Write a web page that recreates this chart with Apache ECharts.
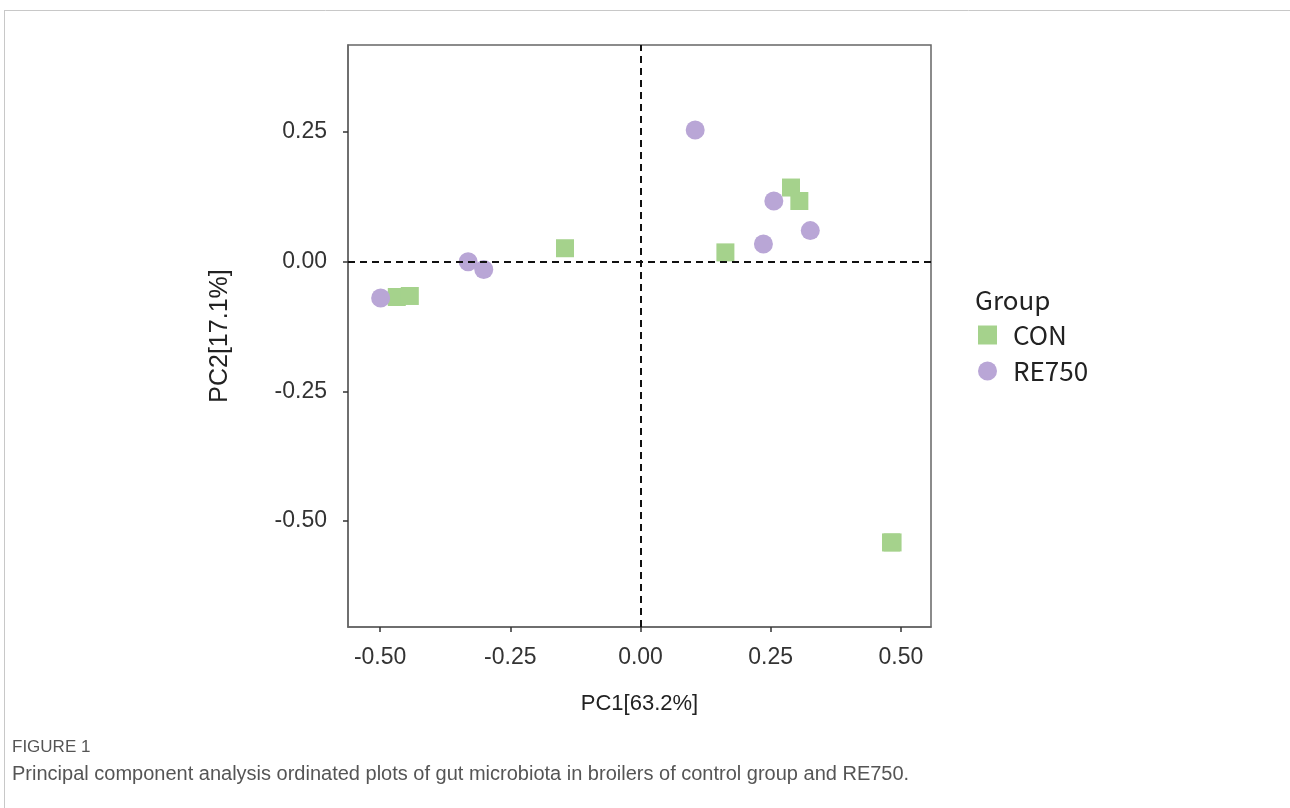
<!DOCTYPE html>
<html>
<head>
<meta charset="utf-8">
<script src="https://cdn.jsdelivr.net/npm/echarts@6/dist/echarts.min.js"></script>
<style>html,body{margin:0;padding:0;background:#fff;}#c{width:1290px;height:808px;}</style>
</head>
<body>
<div id="c"></div>
<script>
const groupNames = ['CON', 'RE750'];
const conPC1 = [-0.468, -0.443, -0.145, 0.163, 0.289, 0.305, 0.481, 0.484];
const conPC2 = [-0.068, -0.066, 0.026, 0.018, 0.143, 0.117, -0.541, -0.541];
const rePC1 = [-0.499, -0.331, -0.301, 0.105, 0.256, 0.326, 0.236];
const rePC2 = [-0.070, 0.000, -0.015, 0.254, 0.117, 0.060, 0.034];
const xTicks = [-0.5, -0.25, 0, 0.25, 0.5];
const yTicks = [-0.5, -0.25, 0, 0.25];
const xTitle = 'PC1[63.2%]';
const yTitle = 'PC2[17.1%]';
const legendTitle = 'Group';
const figLabel = 'FIGURE 1';
const caption = 'Principal component analysis ordinated plots of gut microbiota in broilers of control group and RE750.';

const zip = (a, b) => a.map((v, i) => [v, b[i]]);
const tickFont = '"Liberation Sans", sans-serif';
const legFont = '"Noto Sans CJK SC", "Noto Sans", sans-serif';

const chart = echarts.init(document.getElementById('c'), null, {renderer: 'canvas'});
chart.setOption({
  backgroundColor: '#fff',
  animation: false,
  title: {
    text: legendTitle, left: 970, top: 282,
    textStyle: {fontFamily: legFont, fontSize: 26, fontWeight: 'normal', color: '#222'}
  },
  legend: {
    data: groupNames, orient: 'vertical', left: 973, top: 317,
    itemWidth: 19, itemHeight: 19, itemGap: 10,
    textStyle: {fontFamily: legFont, fontSize: 26, color: '#222', padding: [0, 0, 0, 11]}
  },
  grid: {left: 348, right: 359, top: 45, bottom: 181, show: true, borderColor: '#666', borderWidth: 1.5, containLabel: false},
  xAxis: {
    type: 'value', min: -0.5617, max: 0.5578,
    name: xTitle, nameLocation: 'middle', nameGap: 66,
    nameTextStyle: {fontFamily: tickFont, fontSize: 22, color: '#222'},
    axisLine: {show: true, onZero: false, lineStyle: {color: '#666', width: 1.5}},
    axisTick: {show: true, inside: false, length: 5, customValues: xTicks, lineStyle: {color: '#333', width: 1.5}},
    axisLabel: {customValues: xTicks, margin: 19, fontFamily: tickFont, fontSize: 23, color: '#333', formatter: v => v.toFixed(2)},
    splitLine: {show: false}
  },
  yAxis: {
    type: 'value', min: -0.704, max: 0.4177,
    name: yTitle, nameLocation: 'middle', nameGap: 115, nameRotate: 90,
    nameTextStyle: {fontFamily: tickFont, fontSize: 25, color: '#222'},
    axisLine: {show: true, onZero: false, lineStyle: {color: '#666', width: 1.5}},
    axisTick: {show: true, inside: false, length: 5, customValues: yTicks, lineStyle: {color: '#333', width: 1.5}},
    axisLabel: {customValues: yTicks, margin: 21, fontFamily: tickFont, fontSize: 23, color: '#333', formatter: v => v.toFixed(2)},
    splitLine: {show: false}
  },
  series: [
    {
      name: groupNames[0], type: 'scatter', symbol: 'rect', symbolSize: 18,
      itemStyle: {color: '#a5d28c', opacity: 1},
      data: zip(conPC1, conPC2), z: 3,
      markLine: {
        silent: true, symbol: 'none', animation: false,
        label: {show: false},
        lineStyle: {color: '#111', type: [7, 5], width: 2},
        data: [{xAxis: 0}, {yAxis: 0}]
      }
    },
    {
      name: groupNames[1], type: 'scatter', symbol: 'circle', symbolSize: 19,
      itemStyle: {color: '#b9a6d6', opacity: 1},
      data: zip(rePC1, rePC2), z: 4
    }
  ],
  graphic: [
    {type: 'line', shape: {x1: 4, y1: 10.5, x2: 1290, y2: 10.5}, style: {stroke: '#c8c8c8', lineWidth: 1}, silent: true},
    {type: 'line', shape: {x1: 4.5, y1: 10, x2: 4.5, y2: 808}, style: {stroke: '#c8c8c8', lineWidth: 1}, silent: true},
    {type: 'text', left: 12, top: 739, style: {text: figLabel, font: '17px "Liberation Sans", sans-serif', fill: '#555'}},
    {type: 'text', left: 12, top: 764, style: {text: caption, font: '20px "Liberation Sans", sans-serif', fill: '#555'}}
  ]
});
</script>
</body>
</html>
